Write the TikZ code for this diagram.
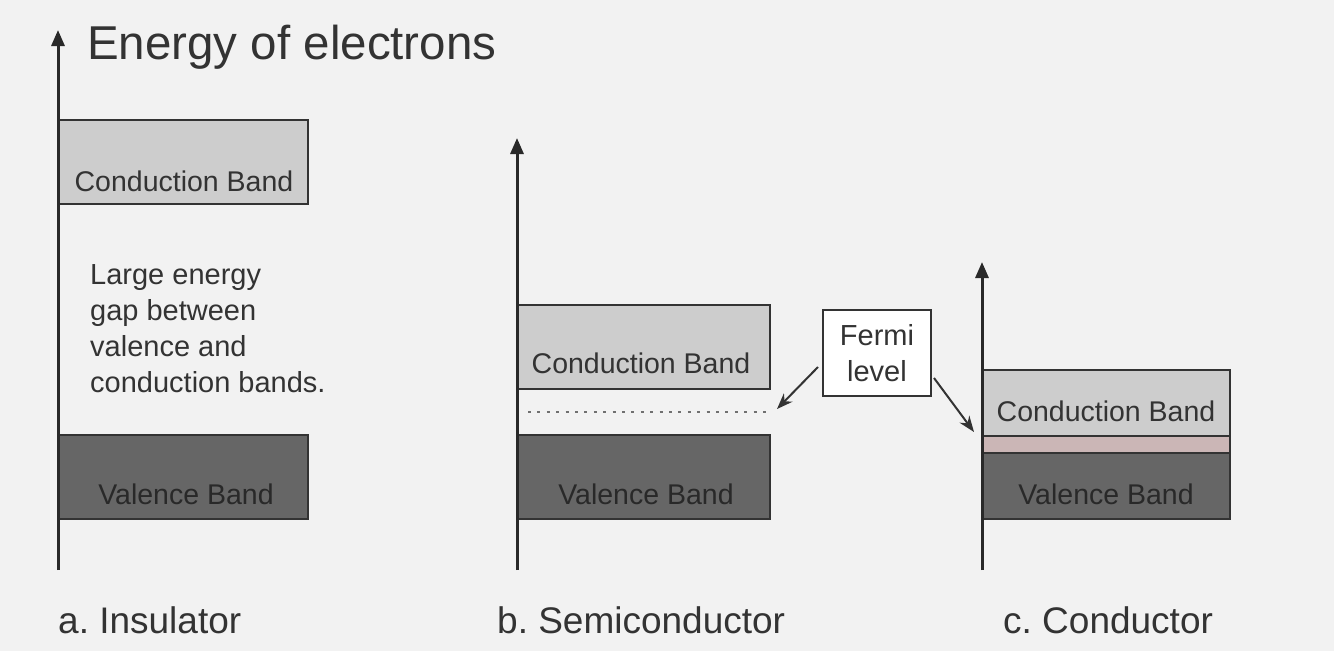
\documentclass[tikz,border=0pt]{standalone}
\usepackage{fontspec}
\setmainfont{Liberation Sans}
\usetikzlibrary{arrows.meta}
\definecolor{bg}{HTML}{F2F2F2}
\definecolor{ink}{HTML}{333333}
\definecolor{cbfill}{HTML}{CDCDCD}
\definecolor{vbfill}{HTML}{666666}
\definecolor{pinkfill}{HTML}{CBB6B6}
\frenchspacing
\begin{document}
\begin{tikzpicture}[x=1pt,y=-1pt,
  axis/.style={draw=ink!80!black, line width=3pt, -{Triangle[length=16pt,width=13pt]}},
  cband/.style={draw=ink, line width=2pt, fill=cbfill, anchor=north west, inner sep=0pt},
  vband/.style={draw=ink, line width=2pt, fill=vbfill, anchor=north west, inner sep=0pt},
  btext/.style={text=ink, font=\fontsize{28.5}{32}\selectfont, inner sep=0pt},
  vtext/.style={text=ink!80!black, font=\fontsize{28.5}{32}\selectfont, inner sep=0pt},
  caption/.style={text=ink, font=\fontsize{37}{42}\selectfont, anchor=west, inner sep=0pt},
  fermibox/.style={draw=ink, line width=2pt, fill=white!97!bg, align=center, text=ink,
    font=\fontsize{29}{36}\selectfont, minimum width=108pt, minimum height=86pt, inner sep=0pt},
  pointer/.style={draw=ink, line width=2pt, -{Stealth[length=16pt,width=12pt]}}
]
\useasboundingbox (0,0) rectangle (1334,651);
\fill[bg] (0,0) rectangle (1334,651);

% ---------- a. Insulator ----------
\node[cband, minimum width=249pt, minimum height=84pt] (cbA) at (58,119) {};
\node[vband, minimum width=249pt, minimum height=84pt] (vbA) at (58,434) {};
\node[btext] (cbAt) at (184,181) {Conduction Band};
\node[vtext] (vbAt) at (186,494) {Valence Band};
\coordinate (axA0) at (58,570);
\coordinate (axA1) at (58,30);
\draw[axis] (axA0) -- (axA1);
\node[text=ink, font=\fontsize{47.5}{52}\selectfont, anchor=west, inner sep=0pt] (title) at (87,47) {Energy of electrons};
\node[text=ink, font=\fontsize{29}{36}\selectfont, align=left, anchor=north west, inner sep=0pt] (gap) at (90,264)
  {Large energy\\gap between\\valence and\\conduction bands.};
\node[caption] (capA) at (58,620) {a. Insulator};

% ---------- b. Semiconductor ----------
\node[cband, minimum width=252pt, minimum height=84pt] (cbB) at (517,304) {};
\node[vband, minimum width=252pt, minimum height=84pt] (vbB) at (517,434) {};
\node[btext] (cbBt) at (641,363) {Conduction Band};
\node[vtext] (vbBt) at (646,494) {Valence Band};
\coordinate (fl0) at (528,412);
\coordinate (fl1) at (770,412);
\draw[ink!70, line width=2.5pt, dash pattern=on 3pt off 6.4pt] (fl0) -- (fl1);
\coordinate (axB0) at (517,570);
\coordinate (axB1) at (517,138);
\draw[axis] (axB0) -- (axB1);
\node[caption] (capB) at (497,620) {b. Semiconductor};

% ---------- Fermi level box ----------
\node[fermibox, anchor=north west] (fermi) at (822,309) {Fermi\\level};
\coordinate (fermiB) at (777,409);
\coordinate (fermiC) at (974,432);
\draw[pointer] (fermi.west |- 0,367) ++(-4,0) -- (fermiB);
\draw[pointer] (fermi.east |- 0,378) ++(2,0) -- (fermiC);

% ---------- c. Conductor ----------
\node[cband, minimum width=247pt, minimum height=66pt] (cbC) at (982,369) {};
\node[draw=ink, line width=1.5pt, fill=pinkfill, anchor=north west, inner sep=0pt,
  minimum width=247pt, minimum height=17pt] (pinkC) at (982,435) {};
\node[vband, minimum width=247pt, minimum height=66pt] (vbC) at (982,452) {};
\node[btext] (cbCt) at (1106,411) {Conduction Band};
\node[vtext] (vbCt) at (1106,494) {Valence Band};
\coordinate (axC0) at (982,570);
\coordinate (axC1) at (982,262);
\draw[axis] (axC0) -- (axC1);
\node[caption] (capC) at (1003,620) {c. Conductor};
\end{tikzpicture}
\end{document}
